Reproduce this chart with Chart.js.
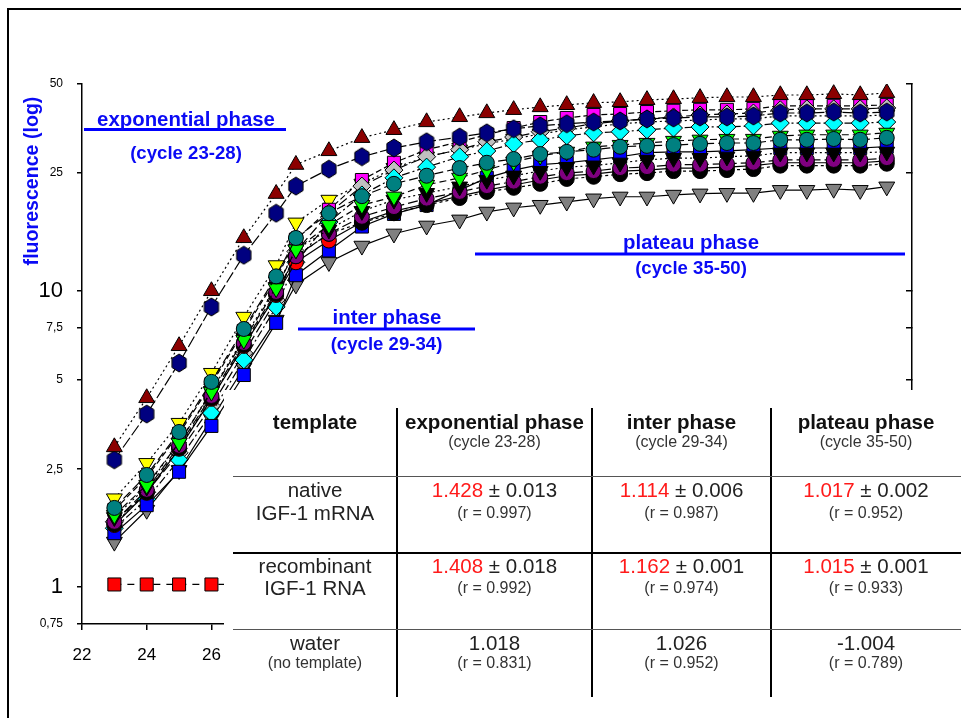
<!DOCTYPE html>
<html>
<head>
<meta charset="utf-8">
<title>IGF-1 real-time PCR phases</title>
<script src="https://cdn.jsdelivr.net/npm/chart.js@4.4.0/dist/chart.umd.min.js"></script>
<style>
  html, body { margin: 0; padding: 0; background: #fff; overflow: hidden; }
  #wrap { position: relative; width: 961px; height: 718px; font-family: 'Liberation Sans', Arial, Helvetica, sans-serif; }
  #frame { position: absolute; left: 6.5px; top: 8.3px; width: 1000px; height: 800px; border-left: 2.5px solid #000; border-top: 2.5px solid #000; }
  #chart { position: absolute; left: 0; top: 0; }
  #tbl { position: absolute; left: 224px; top: 390px; width: 737px; height: 313px; background: #fff; }
  .t { position: absolute; width: 300px; height: 30px; line-height: 30px; text-align: center; white-space: pre; color: #222; }
  .hd { font-weight: bold; font-size: 20.5px; color: #111; }
  .big { font-size: 20.5px; }
  .sm { font-size: 16px; color: #333; }
  .red { color: #ff1a1a; }
  .hl { position: absolute; left: 233px; width: 728px; background: #444; }
  .vl { position: absolute; top: 408px; height: 289px; width: 1.6px; background: #000; }
</style>
</head>
<body>
<div id="wrap">
  <div id="frame"></div>
  <canvas id="chart" width="961" height="718"></canvas>
  <div id="tbl"></div>
</div>
<script>
// cycles 23-50, as plotted along the x axis
const xPos = [23, 24, 25, 26, 27, 28, 28.61, 29.63, 30.65, 31.64, 32.65, 33.67, 34.51, 35.34, 36.16, 36.98,
  37.81, 38.63, 39.46, 40.28, 41.10, 41.93, 42.75, 43.58, 44.40, 45.23, 46.05, 46.87];

const redTriangle = [2.97, 4.35, 6.52, 10.0, 15.1, 21.3, 26.7, 29.7, 32.9, 35.0, 37.2, 38.7, 39.9, 40.9,
  41.8, 42.5, 43.2, 43.5, 44.2, 44.5, 44.9, 45.2, 45.2, 45.9, 45.9, 46.3, 45.9, 46.7];
const navyHexagon = [2.69, 3.84, 5.71, 8.83, 13.2, 18.3, 22.6, 25.8, 28.4, 30.4, 31.9, 33.1, 34.2, 35.3,
  36.1, 36.7, 37.2, 37.5, 38.1, 38.4, 38.7, 38.7, 39.0, 39.9, 39.9, 40.2, 39.9, 40.2];
const tealCircle = [1.85, 2.39, 3.34, 4.93, 7.44, 11.2, 15.1, 18.3, 20.9, 23.0, 24.5, 26.0, 27.1, 27.9,
  29.0, 29.5, 30.0, 30.7, 30.9, 31.1, 31.4, 31.6, 31.6, 32.4, 32.4, 32.6, 32.4, 32.9];
const greenTriangle = [1.75, 2.21, 3.07, 4.56, 6.83, 10.2, 13.8, 16.7, 19.5, 20.8, 22.8, 24.1, 25.6, 27.3,
  28.6, 29.5, 30.7, 31.1, 31.6, 32.1, 32.4, 32.6, 32.6, 33.4, 33.7, 33.7, 33.7, 34.2];
const blackTriangle = [1.72, 2.18, 3.07, 4.59, 6.94, 10.3, 13.8, 16.1, 18.6, 20.3, 21.4, 22.5, 23.7, 24.5,
  25.4, 26.2, 26.5, 27.1, 27.7, 28.1, 28.1, 28.4, 28.6, 29.3, 29.3, 29.3, 29.3, 29.5];
const purpleCircle = [1.66, 2.13, 3.00, 4.42, 6.67, 9.92, 13.1, 15.6, 17.8, 19.2, 20.5, 21.6, 22.6, 23.4,
  24.3, 25.0, 25.4, 26.0, 26.2, 26.7, 26.7, 26.9, 27.1, 27.7, 27.7, 27.7, 27.7, 28.1];
const blackCircle = [1.63, 2.09, 2.95, 4.35, 6.57, 9.77, 13.1, 15.6, 17.0, 18.3, 19.5, 20.6, 21.6, 22.3,
  23.0, 23.9, 24.3, 24.8, 25.0, 25.4, 25.4, 25.6, 25.8, 26.5, 26.5, 26.5, 26.5, 26.9];
const redCircle = [1.62, 2.08, 2.93, 4.32, 6.52, 9.69, 12.5, 14.8, 17.1, 18.6, 19.7, 20.9, 21.9, 22.8,
  23.7, 24.5, 24.8, 25.4, 25.6, 26.0, 26.0, 26.2, 26.5, 27.1, 27.1, 27.1, 27.1, 27.5];
const blueSquare = [1.52, 1.89, 2.45, 3.50, 5.20, 7.80, 11.3, 13.7, 16.5, 18.2, 19.5, 21.9, 24.1, 25.6,
  26.7, 27.1, 27.7, 28.4, 29.3, 29.5, 29.5, 29.7, 30.0, 30.4, 30.4, 30.4, 30.4, 30.7];
const cyanDiamond = [1.58, 1.98, 2.69, 3.87, 5.85, 8.83, 12.5, 17.1, 21.1, 24.1, 26.2, 28.4, 29.7, 31.4,
  32.4, 33.4, 34.2, 34.5, 35.0, 35.5, 35.8, 35.8, 36.1, 36.9, 36.9, 36.9, 36.9, 37.2];
const grayDiamond = [1.66, 2.09, 2.84, 4.09, 6.17, 9.32, 13.6, 18.3, 22.6, 25.6, 28.4, 30.0, 31.9, 33.1,
  34.5, 35.5, 36.7, 37.5, 38.1, 38.7, 39.3, 39.6, 39.9, 40.9, 41.2, 41.2, 41.2, 41.5];
const magentaSquare = [1.82, 2.35, 3.29, 4.85, 7.33, 11.0, 14.9, 18.8, 23.7, 27.1, 30.0, 31.9, 33.7, 35.5,
  37.2, 38.4, 39.3, 39.6, 40.2, 40.6, 40.9, 40.9, 41.2, 42.2, 42.2, 42.2, 42.2, 42.5];
const yellowTriangle = [1.99, 2.62, 3.58, 5.28, 8.17, 12.2, 17.0, 20.3, 23.0, 26.0, 28.4, 30.0, 31.4, 32.6,
  33.9, 35.0, 35.8, 36.7, 37.2, 37.5, 37.8, 38.1, 38.1, 39.0, 39.0, 39.0, 39.0, 39.3];
const grayTriangle = [1.42, 1.82, 2.48, 3.69, 5.49, 7.98, 10.5, 12.5, 14.2, 15.6, 16.6, 17.4, 18.5, 19.1,
  19.5, 20.0, 20.5, 20.8, 20.8, 21.1, 21.3, 21.4, 21.4, 21.9, 21.9, 22.1, 21.9, 22.5];
const water = [1.02, 1.02, 1.02, 1.02, 1.02, 1.03];

const yTicks = [0.75, 1, 2.5, 5, 7.5, 10, 25, 50];
const xTicks = [22, 24, 26, 28, 30, 32, 34, 36, 38, 40, 42, 44, 46];

// table text
const colHeads = ['template', 'exponential phase', 'inter phase', 'plateau phase'];
const colSubs = ['', '(cycle 23-28)', '(cycle 29-34)', '(cycle 35-50)'];
const rowNames = [['native', 'IGF-1 mRNA'], ['recombinant', 'IGF-1 RNA'], ['water', '(no template)']];
const slopes = [['1.428', '1.114', '1.017'], ['1.408', '1.162', '1.015'], ['1.018', '1.026', '-1.004']];
const slopeErr = [['0.013', '0.006', '0.002'], ['0.018', '0.001', '0.001'], [null, null, null]];
const rValues = [['0.997', '0.987', '0.952'], ['0.992', '0.974', '0.933'], ['0.831', '0.952', '0.789']];

const FONT = "'Liberation Sans', Arial, Helvetica, sans-serif";
const BLUE = '#0a0af5';

function makeHex(fill) {
  const c = document.createElement('canvas');
  c.width = 18; c.height = 20;
  const g = c.getContext('2d');
  g.beginPath();
  for (let i = 0; i < 6; i++) {
    const a = Math.PI / 3 * i - Math.PI / 2;
    g.lineTo(9 + 8.2 * Math.cos(a), 10 + 9 * Math.sin(a));
  }
  g.closePath();
  g.fillStyle = fill;
  g.fill();
  g.lineWidth = 1;
  g.strokeStyle = '#000';
  g.stroke();
  return c;
}

function series(values, color, style, dash, extra) {
  return Object.assign({
    data: values.map((v, i) => ({ x: xPos[i], y: v })),
    borderColor: '#000',
    borderWidth: 1.2,
    borderDash: dash,
    backgroundColor: color,
    pointBackgroundColor: color,
    pointBorderColor: '#000',
    pointBorderWidth: 1,
    pointStyle: style,
    pointRadius: 7.5,
    tension: 0,
    fill: false
  }, extra || {});
}

const down = { pointRotation: 180, pointRadius: 9.2 };

// first dataset is drawn on top
const datasets = [
  series(redTriangle, '#8b0000', 'triangle', [2, 3], { pointRadius: 9.2 }),
  series(navyHexagon, '#000080', makeHex('#000080'), [12, 3]),
  series(tealCircle, '#008080', 'circle', [9, 4]),
  series(greenTriangle, '#00ff00', 'triangle', [7, 4], down),
  series(blackTriangle, '#000000', 'triangle', [2, 3], down),
  series(purpleCircle, '#800080', 'circle', [10, 4]),
  series(blackCircle, '#000000', 'circle', [3, 3]),
  series(redCircle, '#ff0000', 'circle', []),
  series(blueSquare, '#0000ff', 'rect', [], { pointRadius: 9.2 }),
  series(cyanDiamond, '#00ffff', 'rectRot', [8, 3, 2, 3], { pointRadius: 9 }),
  series(grayDiamond, '#c0c0c0', 'rectRot', [10, 4], { pointRadius: 9 }),
  series(magentaSquare, '#ff00ff', 'rect', [6, 3], { pointRadius: 9.2 }),
  series(yellowTriangle, '#ffff00', 'triangle', [2, 3], down),
  series(grayTriangle, '#808080', 'triangle', [], down),
  series(water, '#ff0000', 'rect', [7, 6], { pointRadius: 9.2 })
];

const phaseNotes = {
  id: 'phaseNotes',
  afterDraw(chart) {
    const g = chart.ctx;
    g.save();
    g.fillStyle = BLUE;
    g.strokeStyle = '#0000ff';
    g.lineWidth = 3;
    g.textAlign = 'center';
    g.textBaseline = 'middle';
    const line = (x1, x2, y) => { g.beginPath(); g.moveTo(x1, y); g.lineTo(x2, y); g.stroke(); };
    const txt = (s, x, y, size) => { g.font = 'bold ' + size + 'px ' + FONT; g.fillText(s, x, y); };

    line(84, 286, 129.5);
    txt('exponential phase', 186, 120, 20.4);
    txt('(cycle 23-28)', 186, 154, 18.6);

    line(298, 475, 329);
    txt('inter phase', 387, 318, 20.4);
    txt('(cycle 29-34)', 386.5, 345, 18.6);

    line(475, 905, 254);
    txt('plateau phase', 691, 243, 20.4);
    txt('(cycle 35-50)', 691, 269, 18.6);

    // y axis title
    g.translate(33, 181);
    g.rotate(-Math.PI / 2);
    txt('fluorescence (log)', 0, 0, 19.6);
    g.restore();
  }
};

new Chart(document.getElementById('chart').getContext('2d'), {
  type: 'line',
  data: { datasets },
  options: {
    responsive: false,
    animation: false,
    events: [],
    layout: { padding: { top: 84, left: 0, right: 0, bottom: 0 } },
    plugins: { legend: { display: false }, tooltip: { enabled: false } },
    scales: {
      x: {
        type: 'linear',
        position: 'bottom',
        min: 22,
        max: 47.65,
        afterBuildTicks: ax => { ax.ticks = xTicks.map(v => ({ value: v })); },
        afterFit: s => { s.height = 94; },
        grid: { drawOnChartArea: false, color: '#000', lineWidth: 1.5, tickLength: 6 },
        border: { color: '#000', width: 1.5 },
        ticks: { color: '#000', padding: 15, maxRotation: 0, font: { size: 17, family: FONT } }
      },
      y: {
        type: 'logarithmic',
        position: 'left',
        min: 0.75,
        max: 50,
        afterBuildTicks: ax => { ax.ticks = yTicks.map(v => ({ value: v })); },
        afterFit: s => { s.width = 82; },
        grid: { drawOnChartArea: false, color: '#000', lineWidth: 1.5, tickLength: 5 },
        border: { color: '#000', width: 1.5 },
        ticks: {
          color: '#000',
          padding: 14,
          callback: v => String(v).replace('.', ','),
          font: c => ({ size: (c.tick && (c.tick.value === 1 || c.tick.value === 10)) ? 22 : 12, family: FONT })
        }
      },
      y2: {
        type: 'logarithmic',
        position: 'right',
        min: 0.75,
        max: 50,
        afterBuildTicks: ax => { ax.ticks = yTicks.map(v => ({ value: v })); },
        afterFit: s => { s.width = 49; },
        grid: { drawOnChartArea: false, color: '#000', lineWidth: 1.5, tickLength: -6 },
        border: { color: '#000', width: 1.5 },
        ticks: { display: false }
      }
    }
  },
  plugins: [phaseNotes]
});

// results table drawn over the lower right of the plot
const tbl = document.getElementById('wrap');
const colX = [315, 494.5, 681.5, 866];
function put(x, y, html, cls) {
  const d = document.createElement('div');
  d.className = 't ' + cls;
  d.style.left = (x - 150) + 'px';
  d.style.top = (y - 15) + 'px';
  d.innerHTML = html;
  tbl.appendChild(d);
}
function hline(y, h, color) {
  const d = document.createElement('div');
  d.className = 'hl';
  d.style.top = (y - h / 2) + 'px';
  d.style.height = h + 'px';
  d.style.background = color;
  tbl.appendChild(d);
}
[397, 592, 771].forEach(x => {
  const d = document.createElement('div');
  d.className = 'vl';
  d.style.left = (x - 0.8) + 'px';
  tbl.appendChild(d);
});
hline(476.7, 1.2, '#555');
hline(552.7, 2.2, '#000');
hline(629.3, 1.2, '#555');

colHeads.forEach((h, i) => {
  put(colX[i], 421.7, h, 'hd');
  if (colSubs[i]) put(colX[i], 442, colSubs[i], 'sm');
});
const rowY = [[490, 512.5], [566, 588], [642.5, 663]];
rowNames.forEach((names, r) => {
  put(colX[0], rowY[r][0], names[0], 'big');
  put(colX[0], rowY[r][1], names[1], r === 2 ? 'sm' : 'big');
  for (let c = 0; c < 3; c++) {
    const err = slopeErr[r][c];
    const main = err ? '<span class="red">' + slopes[r][c] + '</span> \u00b1 ' + err : slopes[r][c];
    put(colX[c + 1], rowY[r][0], main, 'big');
    put(colX[c + 1], rowY[r][1], '(r = ' + rValues[r][c] + ')', 'sm');
  }
});
</script>
</body>
</html>
